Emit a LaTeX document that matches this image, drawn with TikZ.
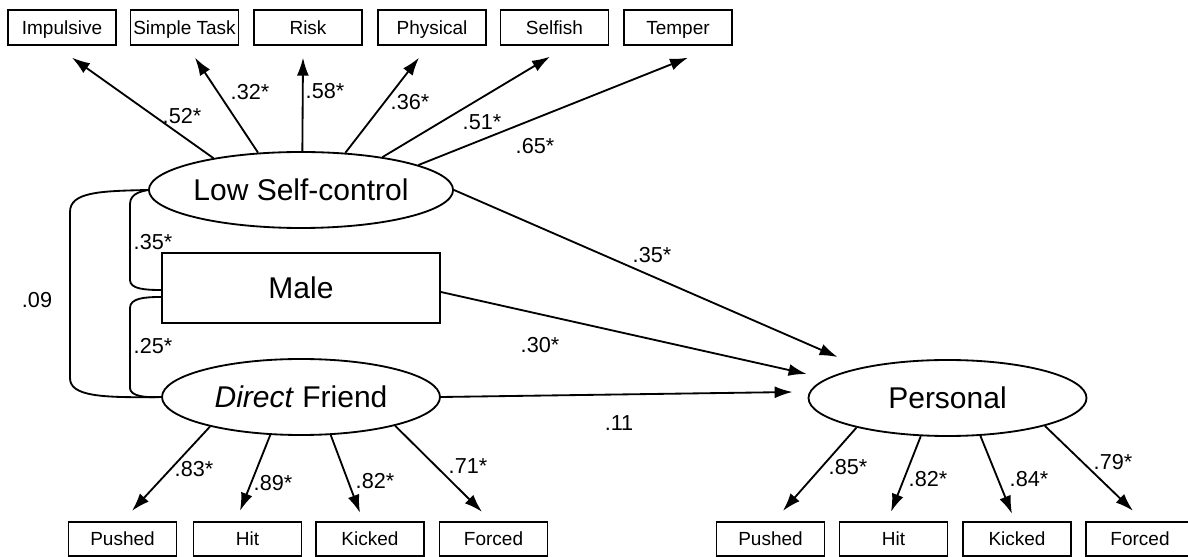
\documentclass[tikz,border=0pt]{standalone}
\usepackage{fontspec}
\setmainfont{Liberation Sans}
\usetikzlibrary{arrows.meta,shapes.geometric}

\begin{document}
\begin{tikzpicture}[x=0.6pt,y=-0.6pt,line width=1.1pt,
    item/.style={draw,rectangle,inner sep=0pt,minimum width=64.8pt,minimum height=20.7pt,text height=1.75ex,text depth=0.2ex,font=\fontsize{11.4}{13}\selectfont},
    latent/.style={draw,ellipse,inner sep=0pt,minimum width=166.8pt,minimum height=45.6pt,font=\fontsize{18}{20}\selectfont},
    coef/.style={inner sep=0pt,font=\fontsize{13}{15}\selectfont},
    arr/.style={-{Latex[length=10.8pt,width=7.2pt]}}]
      \useasboundingbox (0,0) rectangle (1188,557);

      \node[latent] (lsc) at (301,190) {Low Self-control}; % factors
      \node[draw,inner sep=0pt,minimum width=166.8pt,minimum height=42pt,font=\fontsize{18}{20}\selectfont] (male) at (301,288) {Male};
      \node[latent] (friend) at (301,397) {\textit{Direct} Friend};
      \node[latent] (pers) at (947.5,398) {Personal};

      \node[item] (imp) at (62,27.5) {Impulsive}; % self-control items
      \node[item] (simple) at (184.5,27.5) {Simple Task};
      \node[item] (risk) at (308,27.5) {Risk};
      \node[item] (phys) at (432,27.5) {Physical};
      \node[item] (selfish) at (554.5,27.5) {Selfish};
      \node[item] (temper) at (678,27.5) {Temper};

      \node[item] (fpush) at (122.5,539) {Pushed}; % friend items
      \node[item] (fhit) at (247.5,539) {Hit};
      \node[item] (fkick) at (370,539) {Kicked};
      \node[item] (fforce) at (493.5,539) {Forced};

      \node[item] (ppush) at (770.5,539) {Pushed}; % personal items
      \node[item] (phit) at (893.5,539) {Hit};
      \node[item] (pkick) at (1017,539) {Kicked};
      \node[item] (pforce) at (1140,539) {Forced};

      \draw[arr] (lsc.160) -- ([shift={(10,12)}]imp.south); % loadings up
      \draw[arr] (lsc.139) -- ([shift={(10.5,12)}]simple.south);
      \draw[arr] (lsc.88) -- ([shift={(-5,12)}]risk.south);
      \draw[arr] (lsc.40.6) -- ([shift={(-13,12)}]phys.south);
      \draw[arr] (lsc.22.4) -- ([shift={(-4.5,11)}]selfish.south);
      \draw[arr] (lsc.12.5) -- ([shift={(10,12)}]temper.south);
      \node[coef] (c52) at (182,116) {.52*};
      \node[coef] (c32) at (250,92) {.32*};
      \node[coef] (c58) at (325,91) {.58*};
      \node[coef] (c36) at (410,102) {.36*};
      \node[coef] (c51) at (482,122) {.51*};
      \node[coef] (c65) at (535,146) {.65*};

      \draw[arr] (friend.198) -- ([shift={(9.5,-10)}]fpush.north); % loadings friend
      \draw[arr] (friend.231) -- ([shift={(-7.5,-10)}]fhit.north);
      \draw[arr] (friend.308.5) -- ([shift={(-10,-8)}]fkick.north);
      \draw[arr] (friend.343) -- ([shift={(-11.5,-9)}]fforce.north);
      \node[coef] (c83) at (194,469) {.83*};
      \node[coef] (c89) at (273,483) {.89*};
      \node[coef] (c82a) at (375,481) {.82*};
      \node[coef] (c71) at (468,466) {.71*};

      \draw[arr] (pers.198) -- ([shift={(12.5,-10)}]ppush.north); % loadings personal
      \draw[arr] (pers.235) -- ([shift={(-2.5,-9)}]phit.north);
      \draw[arr] (pers.311.5) -- ([shift={(-5,-7)}]pkick.north);
      \draw[arr] (pers.344) -- ([shift={(-7,-10)}]pforce.north);
      \node[coef] (c85) at (848,467) {.85*};
      \node[coef] (c82b) at (928,479) {.82*};
      \node[coef] (c84) at (1029,479) {.84*};
      \node[coef] (c79) at (1113,462) {.79*};

      \draw[arr] (lsc.east) -- ([shift={(30,-41)}]pers.west); % paths
      \draw[arr] ([shift={(0,4)}]male.east) -- ([shift={(-1,-24)}]pers.west);
      \draw[arr] (friend.east) -- ([shift={(-15,-6)}]pers.west);
      \node[coef] (p35) at (652,255) {.35*};
      \node[coef] (p30) at (540,345) {.30*};
      \node[coef] (p11) at (619,423) {.11};

      \draw (lsc.west) .. controls (100,191) and (70,192) .. (70,212) -- (70,378) .. controls (70,396) and (100,398) .. (friend.west); % covariances
      \draw (lsc.west) .. controls (145,191) and (130,192) .. (130,204) -- (130,280) .. controls (130,289) and (145,290) .. ([shift={(0,2)}]male.west);
      \draw ([shift={(0,9)}]male.west) .. controls (145,297) and (130,298) .. (130,308) -- (130,388) .. controls (130,396) and (145,398) .. (friend.west);
      \node[coef] (r09) at (37,300) {.09};
      \node[coef] (r35) at (153,242) {.35*};
      \node[coef] (r25) at (153,346) {.25*};
    \end{tikzpicture}
\end{document}
